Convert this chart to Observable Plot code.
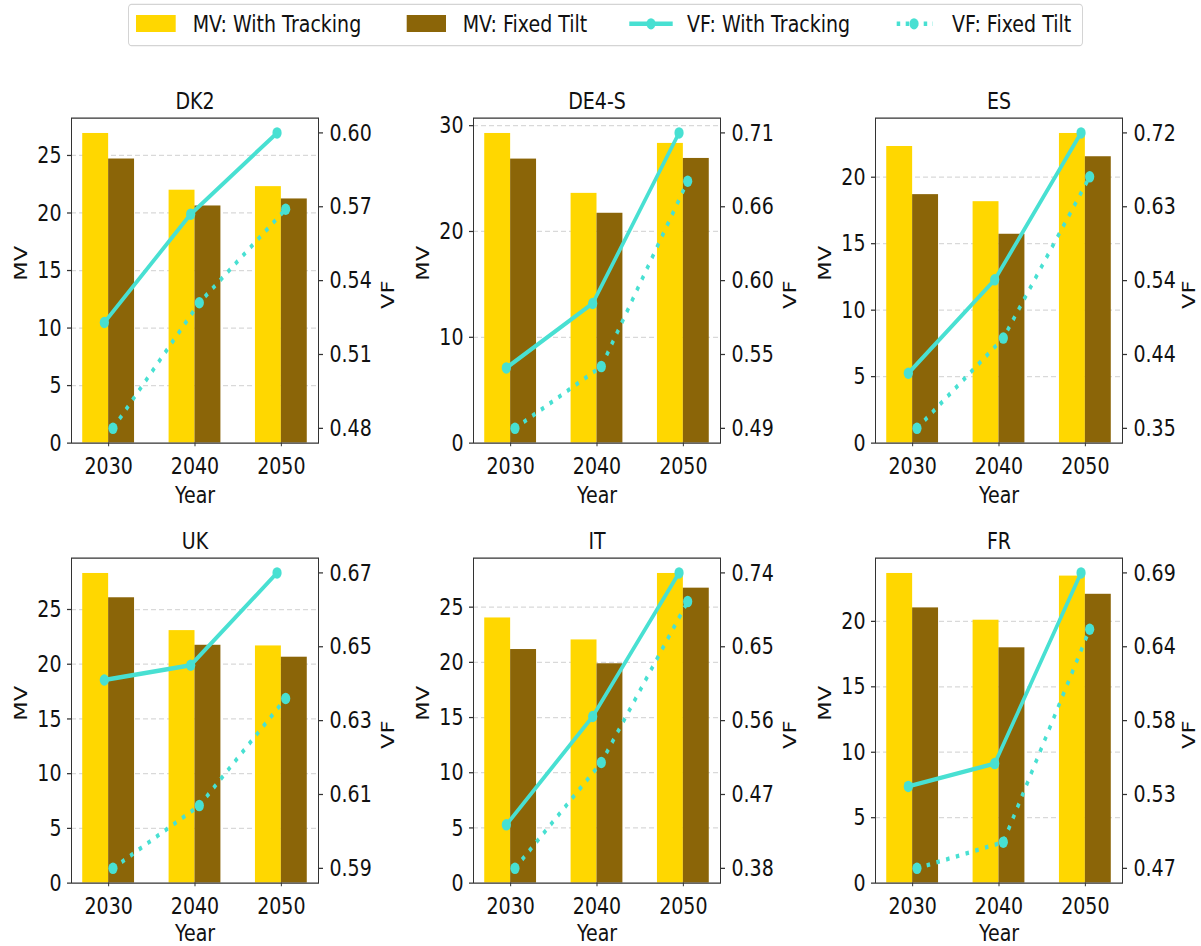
<!DOCTYPE html>
<html>
<head>
<meta charset="utf-8">
<script src="https://cdn.jsdelivr.net/npm/d3@7"></script>
<script src="https://cdn.jsdelivr.net/npm/@observablehq/plot@0.6"></script>
<style>
html, body { margin: 0; padding: 0; background: #fff; width: 1201px; height: 946px; overflow: hidden; }
#outer { position: relative; width: 1201px; height: 946px; overflow: hidden; }
#fig { position: absolute; left: 0; top: 0; width: 1201px; height: 757px; transform: scaleY(1.25); transform-origin: 0 0;
       font-family: "DejaVu Sans", sans-serif; }
.panel { position: absolute; width: 400px; height: 350px; }
.panel svg { position: absolute; left: 0; top: 0; }
</style>
</head>
<body>
<div id="outer"><div id="fig"></div></div>
<script>
// ---------------- data ----------------
const regions = ["DK2", "DE4-S", "ES", "UK", "IT", "FR"];
const years = [2030, 2040, 2050];
const seriesLabels = ["MV: With Tracking", "MV: Fixed Tilt", "VF: With Tracking", "VF: Fixed Tilt"];

const mvTracking = [
  [26.9, 21.97, 22.28],
  [29.25, 23.59, 28.31],
  [22.3, 18.15, 23.28],
  [28.28, 23.06, 21.66],
  [24.01, 22.02, 28.04],
  [23.65, 20.08, 23.45]
];
const mvFixed = [
  [24.68, 20.6, 21.21],
  [26.83, 21.71, 26.89],
  [18.68, 15.7, 21.53],
  [26.06, 21.72, 20.63],
  [21.15, 19.86, 26.71],
  [21.02, 17.97, 22.06]
];
const vfTracking = [
  [0.524, 0.568, 0.601],
  [0.537, 0.585, 0.712],
  [0.421, 0.538, 0.722],
  [0.642, 0.646, 0.671],
  [0.434, 0.566, 0.741],
  [0.533, 0.550, 0.692]
];
const vfFixed = [
  [0.481, 0.532, 0.570],
  [0.492, 0.538, 0.676],
  [0.352, 0.465, 0.667],
  [0.591, 0.608, 0.637],
  [0.381, 0.510, 0.706],
  [0.472, 0.4915, 0.650]
];
const mvTicks = [
  [0, 5, 10, 15, 20, 25],
  [0, 10, 20, 30],
  [0, 5, 10, 15, 20],
  [0, 5, 10, 15, 20, 25],
  [0, 5, 10, 15, 20, 25],
  [0, 5, 10, 15, 20]
];

// ---------------- style ----------------
const YELLOW = "#FFD700", BROWN = "#8B6508", TURQ = "#48E0D2";
const FONT = "\"DejaVu Sans\", sans-serif";
const W = 400, H = 350, ML = 70, MR = 83, MT = 36, MB = 54;
const colLeft = [1, 403, 805];
const rowTop = [58.2, 409.8];
const yearDy = [42, 40];
const xDomain = [2025.7, 2054.3];
const barW = 3, ptOff = 0.5;
const LW = 3.5;
const DOTS = "3.5,6.5";

const fig = document.getElementById("fig");

// ---------------- legend ----------------
{
  const svg = d3.select(fig).append("svg")
    .attr("width", 1201).attr("height", 40)
    .style("position", "absolute").style("left", "0px").style("top", "0px")
    .style("font-family", FONT).style("font-size", "19px");
  svg.append("rect").attr("x", 128.5).attr("y", 3.5).attr("width", 954).attr("height", 33)
    .attr("rx", 3).attr("fill", "#fff").attr("stroke", "#d4d4d4").attr("stroke-width", 1);
  const textX = [192.7, 462.7, 687, 952];
  const baseY = 25.4;
  svg.append("rect").attr("x", 136).attr("y", 12).attr("width", 39.7).attr("height", 13.6).attr("fill", YELLOW);
  svg.append("rect").attr("x", 406.7).attr("y", 12).attr("width", 39.3).attr("height", 13.6).attr("fill", BROWN);
  svg.append("line").attr("x1", 629.3).attr("x2", 672.7).attr("y1", 19).attr("y2", 19)
    .attr("stroke", TURQ).attr("stroke-width", LW);
  svg.append("circle").attr("cx", 651).attr("cy", 19).attr("r", 4.5).attr("fill", TURQ);
  svg.append("line").attr("x1", 896.7).attr("x2", 933).attr("y1", 19).attr("y2", 19)
    .attr("stroke", TURQ).attr("stroke-width", LW).attr("stroke-dasharray", "3.5,5.5");
  svg.append("circle").attr("cx", 914).attr("cy", 19).attr("r", 4.5).attr("fill", TURQ);
  seriesLabels.forEach((s, k) => {
    svg.append("text").attr("x", textX[k]).attr("y", baseY).attr("fill", "#111").text(s);
  });
}

// ---------------- panels ----------------
regions.forEach((name, i) => {
  const row = Math.floor(i / 3), col = i % 3;
  const div = document.createElement("div");
  div.className = "panel";
  div.style.left = colLeft[col] + "px";
  div.style.top = rowTop[row] + "px";
  fig.appendChild(div);

  const mvMax = d3.max([...mvTracking[i], ...mvFixed[i]]) * 1.05;
  const vfAll = [...vfTracking[i], ...vfFixed[i]];
  const lo = d3.min(vfAll), hi = d3.max(vfAll), pad = (hi - lo) * 0.05;
  const vfTicks = d3.range(5).map(k => lo + k * (hi - lo) / 4);

  const bars = years.flatMap((y, j) => [
    {x1: y - barW, x2: y, v: mvTracking[i][j], c: YELLOW},
    {x1: y, x2: y + barW, v: mvFixed[i][j], c: BROWN}
  ]);
  const trk = years.map((y, j) => ({x: y - ptOff, v: vfTracking[i][j]}));
  const fix = years.map((y, j) => ({x: y + ptOff, v: vfFixed[i][j]}));

  const common = {
    width: W, height: H, marginLeft: ML, marginRight: MR, marginTop: MT, marginBottom: MB,
    style: {fontFamily: FONT, fontSize: "19px", background: "transparent", overflow: "visible", color: "#111"}
  };

  const plotA = Plot.plot({
    ...common,
    x: {domain: xDomain},
    y: {domain: [0, mvMax]},
    marks: [
      Plot.ruleY(mvTicks[i].filter(t => t > 0), {stroke: "#d9d9d9", strokeDasharray: "5,3", strokeWidth: 1}),
      Plot.rect(bars, {x1: "x1", x2: "x2", y1: 0, y2: "v", fill: d => d.c}),
      Plot.frame({stroke: "#333", strokeWidth: 1}),
      Plot.axisY({ticks: mvTicks[i], tickSize: 4, tickPadding: 6, label: null, stroke: "#333"}),
      Plot.axisX({ticks: years, tickFormat: "d", tickSize: 3, tickPadding: 8.5, label: null, stroke: "#333"}),
      Plot.text([name], {text: d => d, frameAnchor: "top", lineAnchor: "middle", dy: -13.6, fontSize: 19}),
      Plot.text(["Year"], {text: d => d, frameAnchor: "bottom", lineAnchor: "middle", dy: yearDy[row], fontSize: 19}),
      Plot.text(["MV"], {text: d => d, frameAnchor: "left", dx: -50, rotate: -90, fontSize: 18})
    ]
  });

  const plotB = Plot.plot({
    ...common,
    x: {domain: xDomain, axis: null},
    y: {domain: [lo - pad, hi + pad]},
    marks: [
      Plot.line(trk, {x: "x", y: "v", stroke: TURQ, strokeWidth: LW}),
      Plot.dot(trk, {x: "x", y: "v", r: 4.6, fill: TURQ}),
      Plot.line(fix, {x: "x", y: "v", stroke: TURQ, strokeWidth: LW, strokeDasharray: DOTS, strokeLinecap: "butt"}),
      Plot.dot(fix, {x: "x", y: "v", r: 4.6, fill: TURQ}),
      Plot.axisY({anchor: "right", ticks: vfTicks, tickFormat: d => d.toFixed(2), tickSize: 4, tickPadding: 7, label: null, stroke: "#333"}),
      Plot.text(["VF"], {text: d => d, frameAnchor: "right", dx: col === 2 ? 67 : 70, rotate: -90, fontSize: 18})
    ]
  });

  div.appendChild(plotA);
  div.appendChild(plotB);
});
</script>
</body>
</html>
